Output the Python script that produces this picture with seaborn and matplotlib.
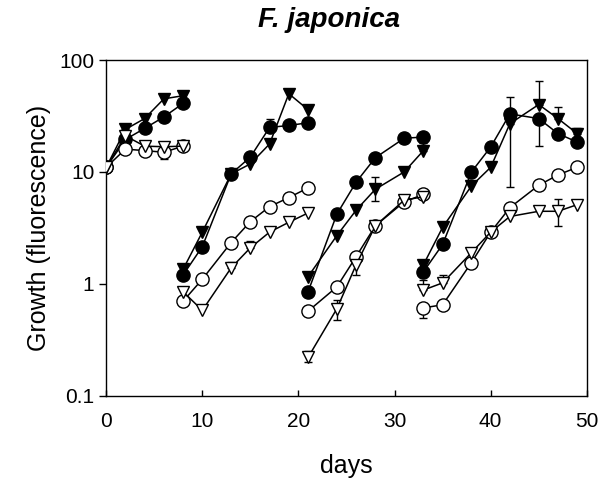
import matplotlib
matplotlib.use("Agg")
import matplotlib.pyplot as plt
import seaborn as sns

# days of each growth run (each run restarts from a dilution)
seg_days = [
    [0, 2, 4, 6, 8],
    [8, 10, 13, 15, 17, 19, 21],
    [21, 24, 26, 28, 31, 33],
    [33, 35, 38, 40, 42, 45, 47, 49],
]

# fluorescence per series, one list per run
filled_circle = [
    [11, 19.5, 24.5, 31, 41],
    [1.2, 2.15, 9.6, 13.6, 25, 26, 27.5],
    [0.85, 4.2, 8.1, 13.4, 20, 20.5],
    [1.28, 2.25, 10, 16.7, 33, 30, 22, 18.5],
]
filled_triangle = [
    [11, 24, 30, 45, 48],
    [1.35, 2.9, 9.6, 11.8, 17.8, 50, 36],
    [1.16, 2.7, 4.55, 7.0, 10, 15.5],
    [1.48, 3.2, 7.5, 11, 27, 40, 30, 22],
]
open_circle = [
    [11, 16, 15.5, 15, 17],
    [0.7, 1.1, 2.34, 3.6, 4.9, 5.9, 7.2],
    [0.57, 0.94, 1.75, 3.3, 5.4, 6.3],
    [0.61, 0.65, 1.55, 2.9, 4.8, 7.6, 9.4, 11],
]
open_triangle = [
    [11, 21, 17, 16.8, 17],
    [0.85, 0.58, 1.39, 2.1, 2.9, 3.55, 4.3],
    [0.22, 0.6, 1.48, 3.3, 5.6, 6.0],
    [0.88, 1.02, 1.9, 2.9, 4.0, 4.45, 4.45, 5.1],
]

# error bars: (day, value, low, high)
err_filled_circle = [(17, 25, 25, 30), (42, 33, 33, 47), (45, 30, 17, 30)]
err_filled_triangle = [(2, 24, 24, 27), (28, 7.0, 5.5, 9.0), (33, 15.5, 15.5, 18),
                       (42, 27, 7.3, 27), (45, 40, 40, 65), (47, 30, 30, 38),
                       (49, 22, 22, 24.5)]
err_open_circle = [(33, 0.61, 0.5, 0.61)]
err_open_triangle = [(6, 16.8, 13, 16.8), (13, 1.39, 1.39, 1.58), (15, 2.1, 2.1, 2.4),
                     (21, 0.22, 0.2, 0.25), (24, 0.6, 0.48, 0.72), (26, 1.48, 1.2, 1.75),
                     (33, 0.88, 0.88, 1.09), (35, 1.02, 1.02, 1.2), (47, 4.45, 3.26, 5.7)]

series = [
    (filled_circle, err_filled_circle, "o", "black", 9.5),
    (open_circle, err_open_circle, "o", "white", 9.5),
    (filled_triangle, err_filled_triangle, "v", "black", 9),
    (open_triangle, err_open_triangle, "v", "white", 9),
]

sns.set_style("ticks")
plt.rcParams["font.family"] = ["Liberation Sans", "DejaVu Sans"]
plt.rcParams["text.color"] = "black"
plt.rcParams["axes.labelcolor"] = "black"

fig = plt.figure(figsize=(6, 4.88), dpi=100)
ax = fig.add_axes([0.177, 0.189, 0.801, 0.688])

for values, errs, marker, face, ms in series:
    for days, vals in zip(seg_days, values):
        sns.lineplot(x=days, y=vals, ax=ax, color="black", linewidth=1.1,
                     marker=marker, markersize=ms, markerfacecolor=face,
                     markeredgecolor="black", markeredgewidth=1.0,
                     estimator=None, sort=False, legend=False, zorder=3)
    for d, v, lo, hi in errs:
        ax.errorbar([d], [v], yerr=[[v - lo], [hi - v]], fmt="none",
                    ecolor="black", elinewidth=1.0, capsize=3, capthick=1.0,
                    zorder=2)

ax.set_yscale("log")
ax.set_ylim(0.1, 100)
ax.set_xlim(0, 50)
ax.set_yticks([0.1, 1, 10, 100])
ax.set_yticklabels(["0.1", "1", "10", "100"])
ax.set_xticks([0, 10, 20, 30, 40, 50])
ax.minorticks_off()
ax.tick_params(axis="y", direction="out", length=5, width=1, labelsize=15,
               colors="black")
ax.tick_params(axis="x", direction="in", length=4, width=1, labelsize=15,
               colors="black", pad=12)
for sp in ax.spines.values():
    sp.set_visible(True)
    sp.set_color("black")
    sp.set_linewidth(1.0)

ax.set_xlabel("days", fontsize=18, labelpad=16)
ax.set_ylabel("Growth (fluorescence)", fontsize=18, labelpad=6)
fig.text(0.548, 0.958, "F. japonica", ha="center", va="center",
         fontsize=20, fontweight="bold", fontstyle="italic")

fig.savefig("out.png", dpi=100)
